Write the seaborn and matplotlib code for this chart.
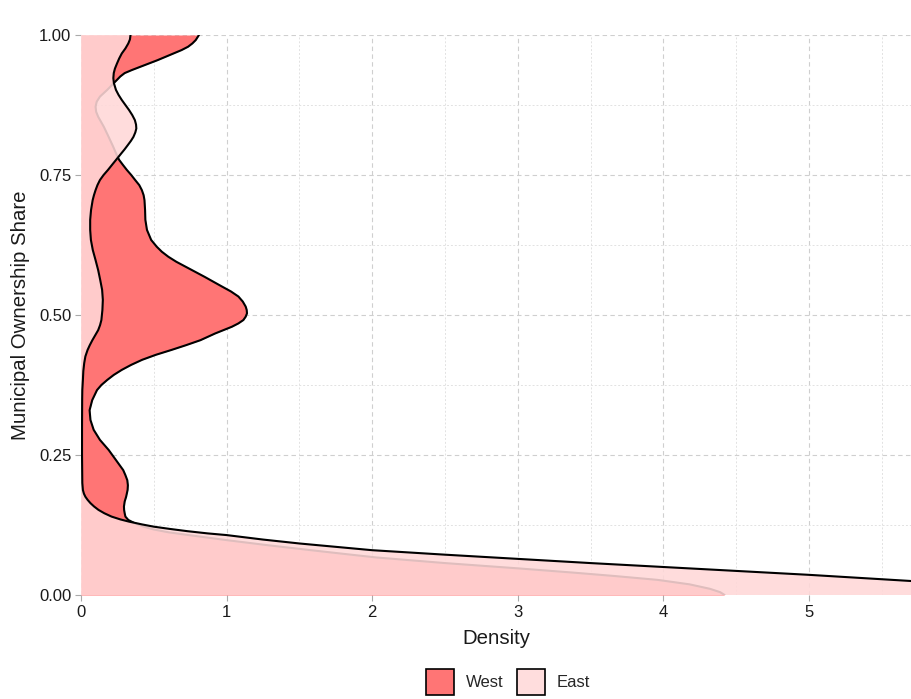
import matplotlib
matplotlib.use("Agg")
import matplotlib.pyplot as plt
from matplotlib.patches import Patch
from matplotlib.ticker import MultipleLocator, FixedLocator
import pandas as pd
import seaborn as sns

# Kernel density of municipal ownership share, by region (share -> density)
share_west = [0.000, 0.005, 0.011, 0.019, 0.027, 0.034, 0.040, 0.0476, 0.057, 0.067,
              0.073, 0.080, 0.089, 0.098, 0.107, 0.112, 0.117, 0.122, 0.128, 0.134,
              0.140, 0.146, 0.152, 0.158, 0.167, 0.1755, 0.1875, 0.196, 0.205, 0.214,
              0.223, 0.241, 0.259, 0.277, 0.295, 0.3125, 0.330, 0.348, 0.366, 0.375,
              0.384, 0.393, 0.402, 0.411, 0.420, 0.429, 0.4375, 0.446, 0.455, 0.467,
              0.479, 0.485, 0.491, 0.497, 0.503, 0.509, 0.515, 0.524, 0.533, 0.542,
              0.551, 0.560, 0.568, 0.577, 0.586, 0.595, 0.604, 0.613, 0.622, 0.634,
              0.652, 0.670, 0.6875, 0.705, 0.714, 0.723, 0.732, 0.741, 0.750, 0.759,
              0.768, 0.777, 0.786, 0.800, 0.818, 0.836, 0.854, 0.863, 0.872, 0.881,
              0.890, 0.902, 0.914, 0.926, 0.932, 0.9375, 0.943, 0.949, 0.955, 0.961,
              0.967, 0.973, 0.979, 0.985, 0.991, 1.000]
density_west = [4.42, 4.39, 4.32, 4.18, 3.96, 3.66, 3.38, 3.00, 2.50, 2.03,
                1.82, 1.58, 1.28, 1.00, 0.74, 0.60, 0.50, 0.43, 0.37, 0.325,
                0.305, 0.300, 0.296, 0.295, 0.300, 0.310, 0.320, 0.322, 0.318, 0.305,
                0.290, 0.240, 0.190, 0.130, 0.087, 0.065, 0.059, 0.077, 0.110, 0.140,
                0.180, 0.225, 0.280, 0.345, 0.420, 0.515, 0.620, 0.720, 0.820, 0.921,
                1.036, 1.081, 1.115, 1.131, 1.140, 1.138, 1.131, 1.111, 1.081, 1.030,
                0.967, 0.905, 0.850, 0.785, 0.720, 0.655, 0.600, 0.555, 0.520, 0.482,
                0.453, 0.442, 0.440, 0.436, 0.430, 0.418, 0.400, 0.372, 0.345, 0.315,
                0.288, 0.262, 0.245, 0.222, 0.190, 0.157, 0.118, 0.104, 0.100, 0.108,
                0.130, 0.180, 0.225, 0.270, 0.300, 0.350, 0.405, 0.465, 0.525, 0.580,
                0.635, 0.690, 0.735, 0.765, 0.788, 0.810]

share_east = [0.000, 0.010, 0.018, 0.025, 0.036, 0.043, 0.050, 0.057, 0.0645, 0.072,
              0.080, 0.086, 0.092, 0.099, 0.107, 0.110, 0.114, 0.118, 0.122, 0.126,
              0.131, 0.135, 0.140, 0.146, 0.152, 0.158, 0.164, 0.170, 0.1755, 0.181,
              0.1875, 0.200, 0.250, 0.300, 0.350, 0.366, 0.384, 0.400, 0.414, 0.426,
              0.4375, 0.446, 0.455, 0.464, 0.473, 0.482, 0.491, 0.509, 0.527, 0.545,
              0.5625, 0.580, 0.598, 0.616, 0.634, 0.652, 0.670, 0.6875, 0.705, 0.714,
              0.723, 0.732, 0.741, 0.750, 0.759, 0.771, 0.780, 0.789, 0.796, 0.8036,
              0.811, 0.818, 0.826, 0.833, 0.840, 0.848, 0.857, 0.866, 0.875, 0.884,
              0.893, 0.902, 0.914, 0.923, 0.932, 0.940, 0.949, 0.958, 0.967, 0.976,
              0.985, 0.992, 1.000]
density_east = [6.90, 6.50, 6.10, 5.70, 5.00, 4.50, 4.00, 3.50, 3.00, 2.50,
                2.00, 1.75, 1.50, 1.25, 1.00, 0.87, 0.73, 0.61, 0.50, 0.42,
                0.33, 0.27, 0.21, 0.16, 0.12, 0.090, 0.065, 0.045, 0.030, 0.020,
                0.013, 0.009, 0.007, 0.007, 0.008, 0.009, 0.013, 0.016, 0.022, 0.030,
                0.045, 0.060, 0.078, 0.098, 0.118, 0.131, 0.140, 0.147, 0.150, 0.145,
                0.132, 0.118, 0.100, 0.081, 0.068, 0.063, 0.063, 0.069, 0.080, 0.089,
                0.100, 0.113, 0.130, 0.155, 0.185, 0.222, 0.250, 0.278, 0.300, 0.322,
                0.343, 0.360, 0.373, 0.380, 0.378, 0.370, 0.352, 0.330, 0.305, 0.280,
                0.258, 0.240, 0.226, 0.222, 0.225, 0.233, 0.247, 0.262, 0.280, 0.305,
                0.325, 0.336, 0.340]

regions = ["West", "East"]
fill_colors = {"West": "#FF7575", "East": "#FFD8D8"}
fill_alpha = {"West": 1.0, "East": 0.88}
legend_colors = {"West": "#FF7575", "East": "#FFDDDD"}

df = pd.concat([
    pd.DataFrame({"region": "West", "share": share_west, "density": density_west}),
    pd.DataFrame({"region": "East", "share": share_east, "density": density_east}),
], ignore_index=True)

sns.set_theme(style="white")
plt.rcParams["font.family"] = ["Liberation Sans", "DejaVu Sans"]

W, H = 911, 699
fig = plt.figure(figsize=(W / 100, H / 100), dpi=100)
ax = fig.add_axes([81 / W, 1 - 595 / H, (W - 81) / W, (595 - 35) / H])

z = 2
for region in regions:
    sub = df[df["region"] == region]
    ax.fill_betweenx(sub["share"], 0, sub["density"], color=fill_colors[region],
                     alpha=fill_alpha[region], lw=0, zorder=z)
    sns.lineplot(data=sub, x="density", y="share", orient="y", sort=False,
                 estimator=None, color="black", lw=1.5, ax=ax, zorder=z + 1,
                 legend=False, solid_joinstyle="round", solid_capstyle="round")
    z += 2

ax.set_xlim(0, 5.70)
ax.set_ylim(0, 1)
ax.xaxis.set_major_locator(MultipleLocator(1))
ax.xaxis.set_minor_locator(MultipleLocator(0.5))
ax.yaxis.set_major_locator(FixedLocator([0, 0.25, 0.5, 0.75, 1.0]))
ax.yaxis.set_minor_locator(MultipleLocator(0.125))
ax.set_yticklabels(["0.00", "0.25", "0.50", "0.75", "1.00"])

ax.set_axisbelow(True)
ax.grid(which="major", color="#cfcfcf", linestyle=(0, (4, 3)), lw=0.8, zorder=0)
ax.grid(which="minor", color="#e2e2e2", linestyle=(0, (2, 2)), lw=0.7, zorder=0)
for s in ax.spines.values():
    s.set_visible(False)

ax.tick_params(which="major", length=4, width=0.8, color="#aaaaaa",
               labelsize=12, labelcolor="#1a1a1a", pad=3,
               bottom=True, left=True)
ax.tick_params(which="minor", length=0)

ax.set_xlabel("Density", fontsize=14.7, color="#1a1a1a", labelpad=7)
ax.set_ylabel("Municipal Ownership Share", fontsize=14.7, color="#1a1a1a",
              labelpad=6.5)

handles = [Patch(facecolor=legend_colors[r], edgecolor="black", lw=1.2, label=r)
           for r in regions]
fig.legend(handles=handles, loc="center", bbox_to_anchor=(508 / W, 1 - 682 / H),
           ncol=2, frameon=False, fontsize=12, handlelength=1.7, handleheight=2.0,
           handletextpad=0.7, columnspacing=0.8)

fig.savefig("out.png", dpi=100)
